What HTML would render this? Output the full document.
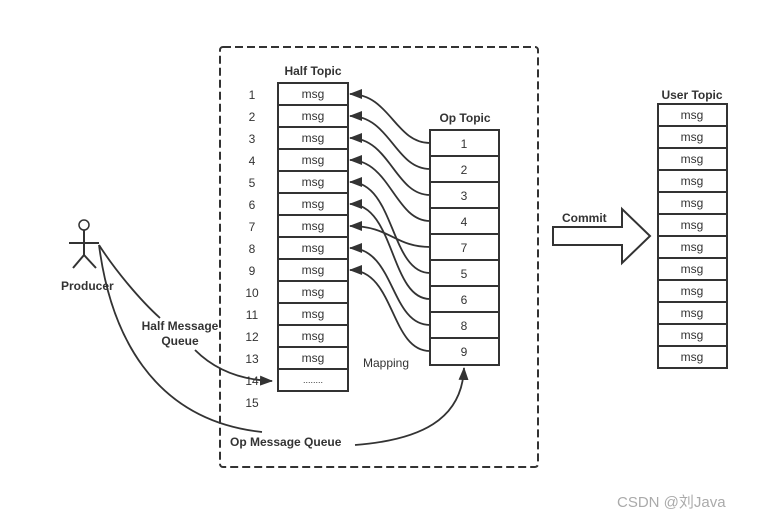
<!DOCTYPE html>
<html><head><meta charset="utf-8"><style>
html,body{margin:0;padding:0;background:#fff;}
svg{display:block;font-family:"Liberation Sans","Noto Sans CJK SC",sans-serif;}
.n{font-size:12px;fill:#333;}
.b{font-size:12px;font-weight:bold;fill:#333;}
</style></head><body>
<svg width="774" height="522" viewBox="0 0 774 522" xmlns="http://www.w3.org/2000/svg">
<defs>
<marker id="ah" markerWidth="13" markerHeight="10" refX="12" refY="5" orient="auto" markerUnits="userSpaceOnUse">
<path d="M0,0 L13,5 L0,10 Z" fill="#333"/>
</marker>
</defs>
<rect x="220" y="47" width="318" height="420" rx="3" fill="none" stroke="#333" stroke-width="2" stroke-dasharray="8,4"/>

<text x="313" y="75" class="b" text-anchor="middle">Half Topic</text>
<g stroke="#333" stroke-width="2" fill="#fff">
<rect x="278" y="83" width="70" height="308"/>
<line x1="278" y1="105" x2="348" y2="105"/><line x1="278" y1="127" x2="348" y2="127"/>
<line x1="278" y1="149" x2="348" y2="149"/><line x1="278" y1="171" x2="348" y2="171"/>
<line x1="278" y1="193" x2="348" y2="193"/><line x1="278" y1="215" x2="348" y2="215"/>
<line x1="278" y1="237" x2="348" y2="237"/><line x1="278" y1="259" x2="348" y2="259"/>
<line x1="278" y1="281" x2="348" y2="281"/><line x1="278" y1="303" x2="348" y2="303"/>
<line x1="278" y1="325" x2="348" y2="325"/><line x1="278" y1="347" x2="348" y2="347"/>
<line x1="278" y1="369" x2="348" y2="369"/>
</g>
<g class="n" text-anchor="middle">
<text x="313" y="98">msg</text><text x="313" y="120">msg</text><text x="313" y="142">msg</text>
<text x="313" y="164">msg</text><text x="313" y="186">msg</text><text x="313" y="208">msg</text>
<text x="313" y="230">msg</text><text x="313" y="252">msg</text><text x="313" y="274">msg</text>
<text x="313" y="296">msg</text><text x="313" y="318">msg</text><text x="313" y="340">msg</text>
<text x="313" y="362">msg</text><text x="313" y="383" style="font-size:9px">........</text>
</g>
<g class="n" text-anchor="middle">
<text x="252" y="99">1</text><text x="252" y="121">2</text><text x="252" y="143">3</text>
<text x="252" y="165">4</text><text x="252" y="187">5</text><text x="252" y="209">6</text>
<text x="252" y="231">7</text><text x="252" y="253">8</text><text x="252" y="275">9</text>
<text x="252" y="297">10</text><text x="252" y="319">11</text><text x="252" y="341">12</text>
<text x="252" y="363">13</text><text x="252" y="385">14</text><text x="252" y="407">15</text>
</g>

<text x="465" y="122" class="b" text-anchor="middle">Op Topic</text>
<g stroke="#333" stroke-width="2" fill="#fff">
<rect x="430" y="130" width="69" height="235"/>
<line x1="430" y1="156" x2="499" y2="156"/><line x1="430" y1="182" x2="499" y2="182"/>
<line x1="430" y1="208" x2="499" y2="208"/><line x1="430" y1="234" x2="499" y2="234"/>
<line x1="430" y1="260" x2="499" y2="260"/><line x1="430" y1="286" x2="499" y2="286"/>
<line x1="430" y1="312" x2="499" y2="312"/><line x1="430" y1="338" x2="499" y2="338"/>
</g>
<g class="n" text-anchor="middle">
<text x="464" y="148">1</text><text x="464" y="174">2</text><text x="464" y="200">3</text>
<text x="464" y="226">4</text><text x="464" y="252">7</text><text x="464" y="278">5</text>
<text x="464" y="304">6</text><text x="464" y="330">8</text><text x="464" y="356">9</text>
</g>
<g stroke="#333" stroke-width="1.8" fill="none" marker-end="url(#ah)">
<path d="M430,143 C395,143 390,94 350,94"/>
<path d="M430,169 C395,169 390,116 350,116"/>
<path d="M430,195 C395,195 390,138 350,138"/>
<path d="M430,221 C395,221 390,160 350,160"/>
<path d="M430,247 C395,247 390,226 350,226"/>
<path d="M430,273 C390,273 395,182 350,182"/>
<path d="M430,299 C390,299 395,204 350,204"/>
<path d="M430,325 C390,325 395,248 350,248"/>
<path d="M430,351 C390,351 395,270 350,270"/>
</g>
<text x="363" y="367" class="n">Mapping</text>

<text x="692" y="99" class="b" text-anchor="middle">User Topic</text>
<g stroke="#333" stroke-width="2" fill="#fff">
<rect x="658" y="104" width="69" height="264"/>
<line x1="658" y1="126" x2="727" y2="126"/><line x1="658" y1="148" x2="727" y2="148"/>
<line x1="658" y1="170" x2="727" y2="170"/><line x1="658" y1="192" x2="727" y2="192"/>
<line x1="658" y1="214" x2="727" y2="214"/><line x1="658" y1="236" x2="727" y2="236"/>
<line x1="658" y1="258" x2="727" y2="258"/><line x1="658" y1="280" x2="727" y2="280"/>
<line x1="658" y1="302" x2="727" y2="302"/><line x1="658" y1="324" x2="727" y2="324"/>
<line x1="658" y1="346" x2="727" y2="346"/>
</g>
<g class="n" text-anchor="middle">
<text x="692" y="119">msg</text><text x="692" y="141">msg</text><text x="692" y="163">msg</text>
<text x="692" y="185">msg</text><text x="692" y="207">msg</text><text x="692" y="229">msg</text>
<text x="692" y="251">msg</text><text x="692" y="273">msg</text><text x="692" y="295">msg</text>
<text x="692" y="317">msg</text><text x="692" y="339">msg</text><text x="692" y="361">msg</text>
</g>

<path d="M553,227 L622,227 L622,209 L650,236 L622,263 L622,245 L553,245 Z" fill="#fff" stroke="#333" stroke-width="2"/>
<text x="562" y="222" class="b">Commit</text>

<g stroke="#333" stroke-width="2" fill="none">
<circle cx="84" cy="225" r="5" stroke-width="1.5"/>
<line x1="84" y1="230" x2="84" y2="255"/>
<line x1="69" y1="243" x2="99" y2="243"/>
<line x1="84" y1="255" x2="73" y2="268"/>
<line x1="84" y1="255" x2="96" y2="268"/>
</g>
<text x="61" y="290" class="b">Producer</text>

<g stroke="#333" stroke-width="1.8" fill="none">
<path d="M99,245 C115,270 140,300 160,318"/>
<path d="M195,350 C215,370 240,380 272,381" marker-end="url(#ah)"/>
<path d="M99,245 C110,330 150,420 262,432"/>
<path d="M355,445 C420,440 462,420 464,368" marker-end="url(#ah)"/>
</g>
<text x="180" y="330" class="b" text-anchor="middle">Half Message</text>
<text x="180" y="345" class="b" text-anchor="middle">Queue</text>
<text x="230" y="446" class="b">Op Message Queue</text>

<text x="617" y="507" style="font-size:15px;fill:#aaa">CSDN @刘Java</text>
</svg>
</body></html>
